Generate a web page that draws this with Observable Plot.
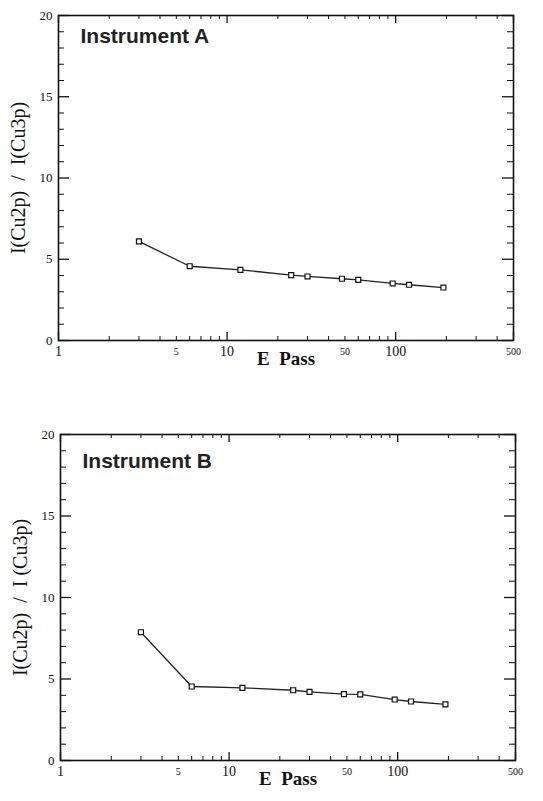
<!DOCTYPE html>
<html>
<head>
<meta charset="utf-8">
<script src="https://cdn.jsdelivr.net/npm/d3@7"></script>
<script src="https://cdn.jsdelivr.net/npm/@observablehq/plot@0.6"></script>
<style>
  html, body { margin: 0; padding: 0; background: #fff; }
  #charts { width: 543px; }
  #charts svg { display: block; }
</style>
</head>
<body>
<div id="charts"></div>
<script>
// ---- data ----
const ePass = [3, 6, 12, 24, 30, 48, 60, 96, 120, 192];
const ratioA = [6.1, 4.57, 4.35, 4.02, 3.94, 3.8, 3.73, 3.51, 3.43, 3.26];
const ratioB = [7.87, 4.54, 4.46, 4.31, 4.21, 4.07, 4.06, 3.74, 3.62, 3.44];

const xLabelsLarge = [1, 10, 100];
const xLabelsSmall = [5, 50, 500];
const xMajorTicks = [1, 10, 100, 500];
const xMinorTicks = [2, 3, 4, 5, 6, 7, 8, 9, 20, 30, 40, 50, 60, 70, 80, 90, 200, 300, 400];
const yLabels = [0, 5, 10, 15, 20];
const yMinorTicks = [1, 2, 3, 4, 6, 7, 8, 9, 11, 12, 13, 14, 16, 17, 18, 19];

const titleA = "Instrument A";
const titleB = "Instrument B";
const yTitleA = "I(Cu2p)  /  I(Cu3p)";
const yTitleB = "I(Cu2p)  /  I (Cu3p)";
const xTitle = "E  Pass";

const serif = "'Liberation Serif', 'DejaVu Serif', serif";
const sans = "'Liberation Sans', Arial, sans-serif";

function panel(values, title, yTitle, dims) {
  const {height, mt, mb, ml, mr, titleDy} = dims;
  const width = 543;
  const pw = width - ml - mr;
  const ph = height - mt - mb;
  const rows = ePass.map((e, i) => ({e, r: values[i]}));
  return Plot.plot({
    width, height,
    marginTop: mt, marginBottom: mb, marginLeft: ml, marginRight: mr,
    x: {type: "log", domain: [1, 500], axis: null},
    y: {domain: [0, 20], axis: null},
    style: {background: "#fff", color: "#000"},
    marks: [
      Plot.frame({stroke: "#111", strokeWidth: 1.6}),
      // x ticks, bottom & top, inward
      Plot.tickX(xMajorTicks, {x: d => d, insetTop: ph - 8, stroke: "#111", strokeWidth: 1.3}),
      Plot.tickX(xMinorTicks, {x: d => d, insetTop: ph - 4, stroke: "#111"}),
      Plot.tickX(xMajorTicks, {x: d => d, insetBottom: ph - 8, stroke: "#111", strokeWidth: 1.3}),
      Plot.tickX(xMinorTicks, {x: d => d, insetBottom: ph - 4, stroke: "#111"}),
      // y ticks, left & right, inward
      Plot.tickY(yLabels, {y: d => d, insetRight: pw - 11, stroke: "#111", strokeWidth: 1.3}),
      Plot.tickY(yMinorTicks, {y: d => d, insetRight: pw - 6, stroke: "#111"}),
      Plot.tickY(yLabels, {y: d => d, insetLeft: pw - 11, stroke: "#111", strokeWidth: 1.3}),
      Plot.tickY(yMinorTicks, {y: d => d, insetLeft: pw - 6, stroke: "#111"}),
      // tick labels
      Plot.text(xLabelsLarge, {x: d => d, text: d => String(d), frameAnchor: "bottom", lineAnchor: "top", dy: 6, fontSize: 14, fontFamily: serif, fill: "#111"}),
      Plot.text(xLabelsSmall, {x: d => d, text: d => String(d), frameAnchor: "bottom", lineAnchor: "top", dy: 7, fontSize: 10, fontFamily: serif, fill: "#111"}),
      Plot.text(yLabels, {y: d => d, text: d => String(d), frameAnchor: "left", textAnchor: "end", dx: -6, fontSize: 13, fontFamily: serif, fill: "#111"}),
      // axis titles
      Plot.text([yTitle], {frameAnchor: "left", textAnchor: "middle", rotate: -90, dx: -40, fontSize: 20, fontFamily: serif, fill: "#111"}),
      Plot.text([xTitle], {frameAnchor: "bottom", textAnchor: "middle", dy: 24, fontSize: 19, fontWeight: "bold", fontFamily: serif, fill: "#111"}),
      // panel title
      Plot.text([title], {frameAnchor: "top-left", dx: 22, dy: titleDy, textAnchor: "start", fontSize: 21, fontWeight: "bold", fontFamily: sans, fill: "#222"}),
      // data
      Plot.line(rows, {x: "e", y: "r", stroke: "#222", strokeWidth: 1.3}),
      Plot.dot(rows, {x: "e", y: "r", symbol: "square", r: 2.8, fill: "#fff", stroke: "#111", strokeWidth: 1.2})
    ]
  });
}

const root = document.getElementById("charts");
root.append(panel(ratioA, titleA, yTitleA, {height: 400, mt: 15, mb: 60, ml: 58, mr: 30, titleDy: 13}));
root.append(panel(ratioB, titleB, yTitleB, {height: 401, mt: 34, mb: 41, ml: 60, mr: 28, titleDy: 19}));
</script>
</body>
</html>
